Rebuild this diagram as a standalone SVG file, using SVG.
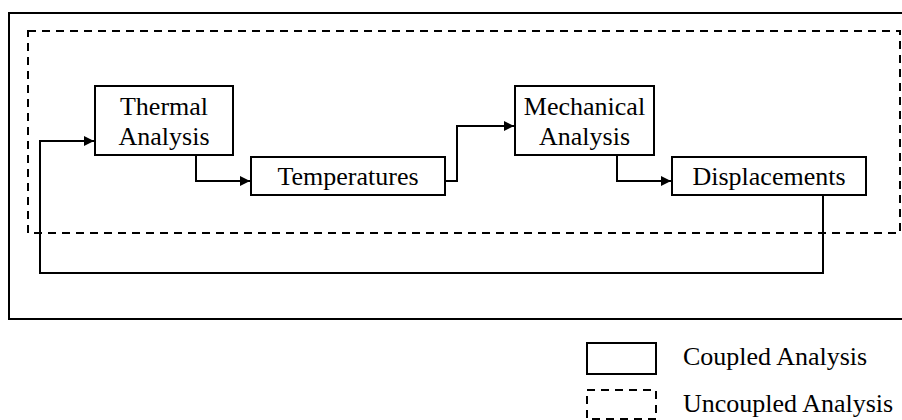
<svg xmlns="http://www.w3.org/2000/svg" width="902" height="420" viewBox="0 0 902 420">
<defs>
<marker id="ah" viewBox="0 0 10 10" refX="10" refY="5" markerWidth="10" markerHeight="10" markerUnits="userSpaceOnUse" orient="auto">
<path d="M0,0 L10,5 L0,10 z" fill="#000"/>
</marker>
<style>
.box{fill:#fff;stroke:#000;stroke-width:2}
.frame{fill:none;stroke:#000;stroke-width:2}
.dash{fill:none;stroke:#000;stroke-width:2;stroke-dasharray:8 6}
.conn{fill:none;stroke:#000;stroke-width:2;marker-end:url(#ah)}
.line{fill:none;stroke:#000;stroke-width:2}
text{font-family:"Liberation Serif","Times New Roman",serif;font-size:26px;fill:#000}
.c{text-anchor:middle}
</style>
</defs>
<rect width="902" height="420" fill="#fff"/>
<g id="coupled-frame"><rect class="frame" x="9" y="13" width="900" height="306"/></g>
<g id="uncoupled-frame"><rect class="dash" x="28" y="31" width="872" height="202"/></g>
<g id="connectors">
<path class="conn" d="M196,155 V181 H250"/>
<path class="conn" d="M445,181 H457 V126 H514"/>
<path class="conn" d="M617,155 V181 H671"/>
<path class="conn" d="M823,195 V273 H40 V141 H94"/>
</g>
<g id="thermal"><rect class="box" x="95" y="86" width="138" height="69"/><text class="c" x="164" y="115">Thermal</text><text class="c" x="164" y="145">Analysis</text></g>
<g id="temperatures"><rect class="box" x="251" y="157" width="194" height="38"/><text class="c" x="348" y="185">Temperatures</text></g>
<g id="mechanical"><rect class="box" x="515" y="86" width="139" height="69"/><text class="c" x="584.5" y="115">Mechanical</text><text class="c" x="584.5" y="145">Analysis</text></g>
<g id="displacements"><rect class="box" x="672" y="157" width="194" height="38"/><text class="c" x="769" y="185">Displacements</text></g>
<g id="legend-coupled"><rect class="box" x="587" y="343" width="69" height="31"/><text x="683" y="365">Coupled Analysis</text></g>
<g id="legend-uncoupled"><rect class="dash" x="587" y="390" width="69" height="29"/><text x="683" y="412">Uncoupled Analysis</text></g>
</svg>
